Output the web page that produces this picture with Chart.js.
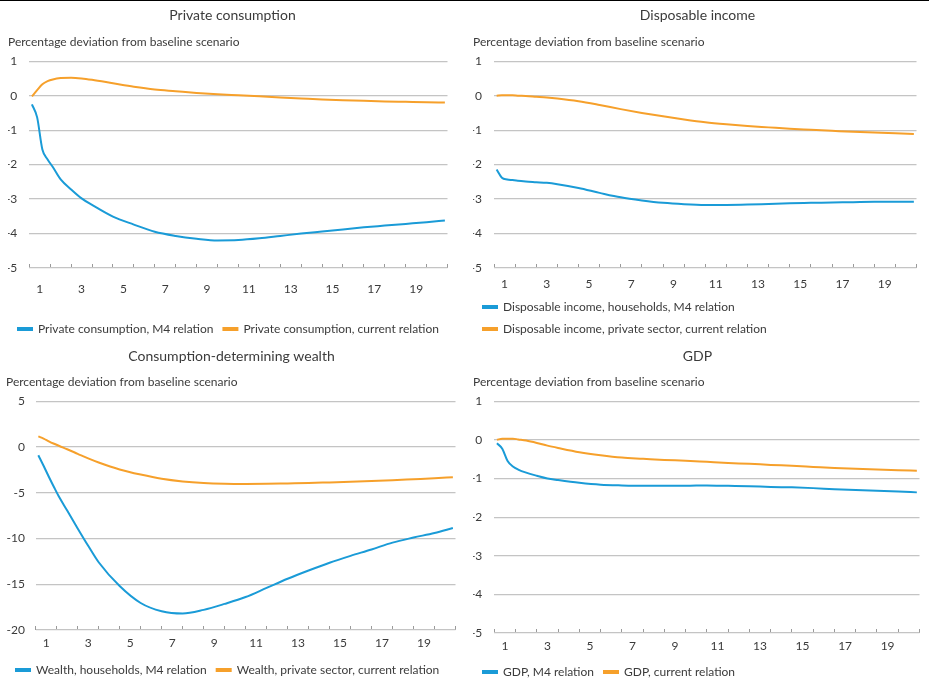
<!DOCTYPE html>
<html>
<head>
<meta charset="utf-8">
<title>Simulation results</title>
<script src="https://cdn.jsdelivr.net/npm/chart.js@4.4.0/dist/chart.umd.min.js"></script>
<style>
  html, body { margin: 0; padding: 0; background: #fff; overflow: hidden; }
  #page { position: relative; width: 929px; height: 679px; border-top: 1px solid #000; box-sizing: border-box; }
  .panel { position: absolute; }
</style>
</head>
<body>
<div id="page">
  <div class="panel" style="left:0;top:1px;"><canvas id="consChart" width="465" height="343"></canvas></div>
  <div class="panel" style="left:465px;top:1px;"><canvas id="incomeChart" width="464" height="343"></canvas></div>
  <div class="panel" style="left:0;top:339px;"><canvas id="wealthChart" width="465" height="346"></canvas></div>
  <div class="panel" style="left:465px;top:339px;"><canvas id="gdpChart" width="464" height="348"></canvas></div>
</div>
<script>
// position of each reading, in years from the start of the simulation
const periods = [0.125, 0.375, 0.625, 0.875, 1.125, 1.5, 2, 2.5, 3, 4, 5, 6, 7, 8, 9, 10, 11, 12, 13, 14, 15, 16, 17, 18, 19, 19.875];
// year labels, shown under every other year
const yearLabels = ['1', '3', '5', '7', '9', '11', '13', '15', '17', '19'];

const consM4 = [-0.25, -0.63, -1.56, -1.85, -2.07, -2.43, -2.72, -2.98, -3.17, -3.51, -3.74, -3.95, -4.07, -4.15, -4.2, -4.19, -4.14, -4.07, -4.0, -3.94, -3.88, -3.82, -3.77, -3.72, -3.67, -3.62];
const consCurrent = [-0.02, 0.16, 0.33, 0.42, 0.47, 0.51, 0.52, 0.5, 0.46, 0.36, 0.26, 0.18, 0.13, 0.08, 0.04, 0.01, -0.02, -0.05, -0.08, -0.11, -0.13, -0.15, -0.17, -0.18, -0.19, -0.2];

const incomeM4 = [-2.14, -2.38, -2.43, -2.45, -2.47, -2.49, -2.51, -2.53, -2.57, -2.68, -2.82, -2.95, -3.04, -3.11, -3.15, -3.17, -3.17, -3.16, -3.14, -3.12, -3.11, -3.1, -3.09, -3.08, -3.08, -3.08];
const incomeCurrent = [0.0, 0.01, 0.01, 0.01, 0.0, -0.01, -0.03, -0.05, -0.08, -0.16, -0.27, -0.39, -0.5, -0.6, -0.69, -0.77, -0.83, -0.88, -0.92, -0.96, -0.99, -1.02, -1.05, -1.07, -1.09, -1.11];

const wealthM4 = [-0.9, -2.05, -3.25, -4.4, -5.5, -6.95, -8.9, -10.8, -12.6, -15.2, -17.05, -17.95, -18.2, -17.8, -17.15, -16.4, -15.4, -14.4, -13.5, -12.65, -11.9, -11.2, -10.45, -9.9, -9.4, -8.85];
const wealthCurrent = [1.15, 0.92, 0.62, 0.35, 0.1, -0.25, -0.75, -1.25, -1.7, -2.46, -3.02, -3.48, -3.77, -3.94, -4.02, -4.04, -4.02, -3.98, -3.94, -3.87, -3.8, -3.72, -3.64, -3.53, -3.42, -3.31];

const gdpM4 = [-0.09, -0.23, -0.55, -0.69, -0.77, -0.85, -0.93, -1.0, -1.04, -1.11, -1.16, -1.18, -1.19, -1.19, -1.19, -1.18, -1.19, -1.2, -1.22, -1.23, -1.25, -1.28, -1.3, -1.32, -1.34, -1.36];
const gdpCurrent = [0.0, 0.03, 0.03, 0.03, 0.01, -0.02, -0.08, -0.15, -0.21, -0.32, -0.4, -0.46, -0.49, -0.52, -0.54, -0.57, -0.6, -0.62, -0.65, -0.67, -0.7, -0.73, -0.75, -0.77, -0.79, -0.8];

const BLUE = '#1a9bd7';
const ORANGE = '#f6a02b';
const GRID = '#c4c4c4';
const TEXT = '#3b3b3b';

Chart.defaults.font.family = 'Lato, "Open Sans", sans-serif';
Chart.defaults.color = TEXT;

function series(values) {
    return periods.map((x, i) => ({ x: x, y: values[i] }));
}

function makePanel(canvasId, p) {
    const ctx = document.getElementById(canvasId).getContext('2d');
    return new Chart(ctx, {
        type: 'line',
        data: {
            datasets: [{
                label: p.names[0],
                data: series(p.m4),
                borderColor: BLUE,
                backgroundColor: BLUE,
                borderWidth: 2,
                pointRadius: 0,
                cubicInterpolationMode: 'monotone'
            }, {
                label: p.names[1],
                data: series(p.current),
                borderColor: ORANGE,
                backgroundColor: ORANGE,
                borderWidth: 2,
                pointRadius: 0,
                cubicInterpolationMode: 'monotone'
            }]
        },
        options: {
            responsive: false,
            animation: false,
            layout: { padding: { left: p.left, right: p.right, top: 0, bottom: 0 } },
            plugins: {
                title: {
                    display: true,
                    text: p.title,
                    color: TEXT,
                    font: { size: 14, weight: 'normal' },
                    padding: { top: p.titleTop, bottom: 6 }
                },
                subtitle: {
                    display: true,
                    text: 'Percentage deviation from baseline scenario',
                    align: 'start',
                    color: TEXT,
                    font: { size: 12 },
                    padding: { top: p.subTop, bottom: 12 }
                },
                legend: {
                    position: 'bottom',
                    align: 'start',
                    labels: { boxWidth: 14, boxHeight: 2, padding: 10, color: TEXT, font: { size: 12 } }
                },
                tooltip: { enabled: false }
            },
            scales: {
                x: {
                    type: 'linear',
                    min: 0,
                    max: 20,
                    afterBuildTicks: function (scale) {
                        const ticks = [];
                        for (let v = 0; v <= 20; v += 0.5) ticks.push({ value: v });
                        scale.ticks = ticks;
                    },
                    afterFit: function (scale) { scale.height = p.xHeight; },
                    border: { display: false },
                    grid: {
                        drawOnChartArea: false,
                        tickLength: -4,
                        tickColor: function (c) {
                            return Number.isInteger(c.tick.value) ? '#9a9a9a' : 'rgba(0,0,0,0)';
                        }
                    },
                    ticks: {
                        autoSkip: false,
                        maxRotation: 0,
                        padding: p.xPad,
                        font: { size: 12 },
                        callback: function (value) {
                            const k = (value - 0.5) / 2;
                            return Number.isInteger(k) && k >= 0 && k < yearLabels.length ? yearLabels[k] : '';
                        }
                    }
                },
                y: {
                    min: p.yMin,
                    max: p.yMax,
                    afterFit: function (scale) { scale.width = p.yWidth; },
                    border: { display: false },
                    grid: { color: GRID, lineWidth: 1.2, drawTicks: false },
                    ticks: { stepSize: p.yStep, padding: p.yPad, font: { size: 12 } }
                }
            }
        }
    });
}

makePanel('consChart', {
    title: 'Private consumption',
    names: ['Private consumption, M4 relation', 'Private consumption, current relation'],
    m4: consM4, current: consCurrent,
    yMin: -5, yMax: 1, yStep: 1,
    titleTop: 4.6, subTop: 5.4, left: 8, right: 8, yWidth: 21.3, yPad: 12, xHeight: 45, xPad: 17.5
});

makePanel('incomeChart', {
    title: 'Disposable income',
    names: ['Disposable income, households, M4 relation', 'Disposable income, private sector, current relation'],
    m4: incomeM4, current: incomeCurrent,
    yMin: -5, yMax: 1, yStep: 1,
    titleTop: 4.6, subTop: 5.4, left: 8, right: 7, yWidth: 21, yPad: 12, xHeight: 23, xPad: 12.5
});

makePanel('wealthChart', {
    title: 'Consumption-determining wealth',
    names: ['Wealth, households, M4 relation', 'Wealth, private sector, current relation'],
    m4: wealthM4, current: wealthCurrent,
    yMin: -20, yMax: 5, yStep: 5,
    titleTop: 7.6, subTop: 4.4, left: 6, right: 8, yWidth: 29.7, yPad: 10.7, xHeight: 24, xPad: 9.5
});

makePanel('gdpChart', {
    title: 'GDP',
    names: ['GDP, M4 relation', 'GDP, current relation'],
    m4: gdpM4, current: gdpCurrent,
    yMin: -5, yMax: 1, yStep: 1,
    titleTop: 7.6, subTop: 4.4, left: 8, right: 7, yWidth: 21.3, yPad: 12, xHeight: 23, xPad: 9.5
});
</script>
</body>
</html>
